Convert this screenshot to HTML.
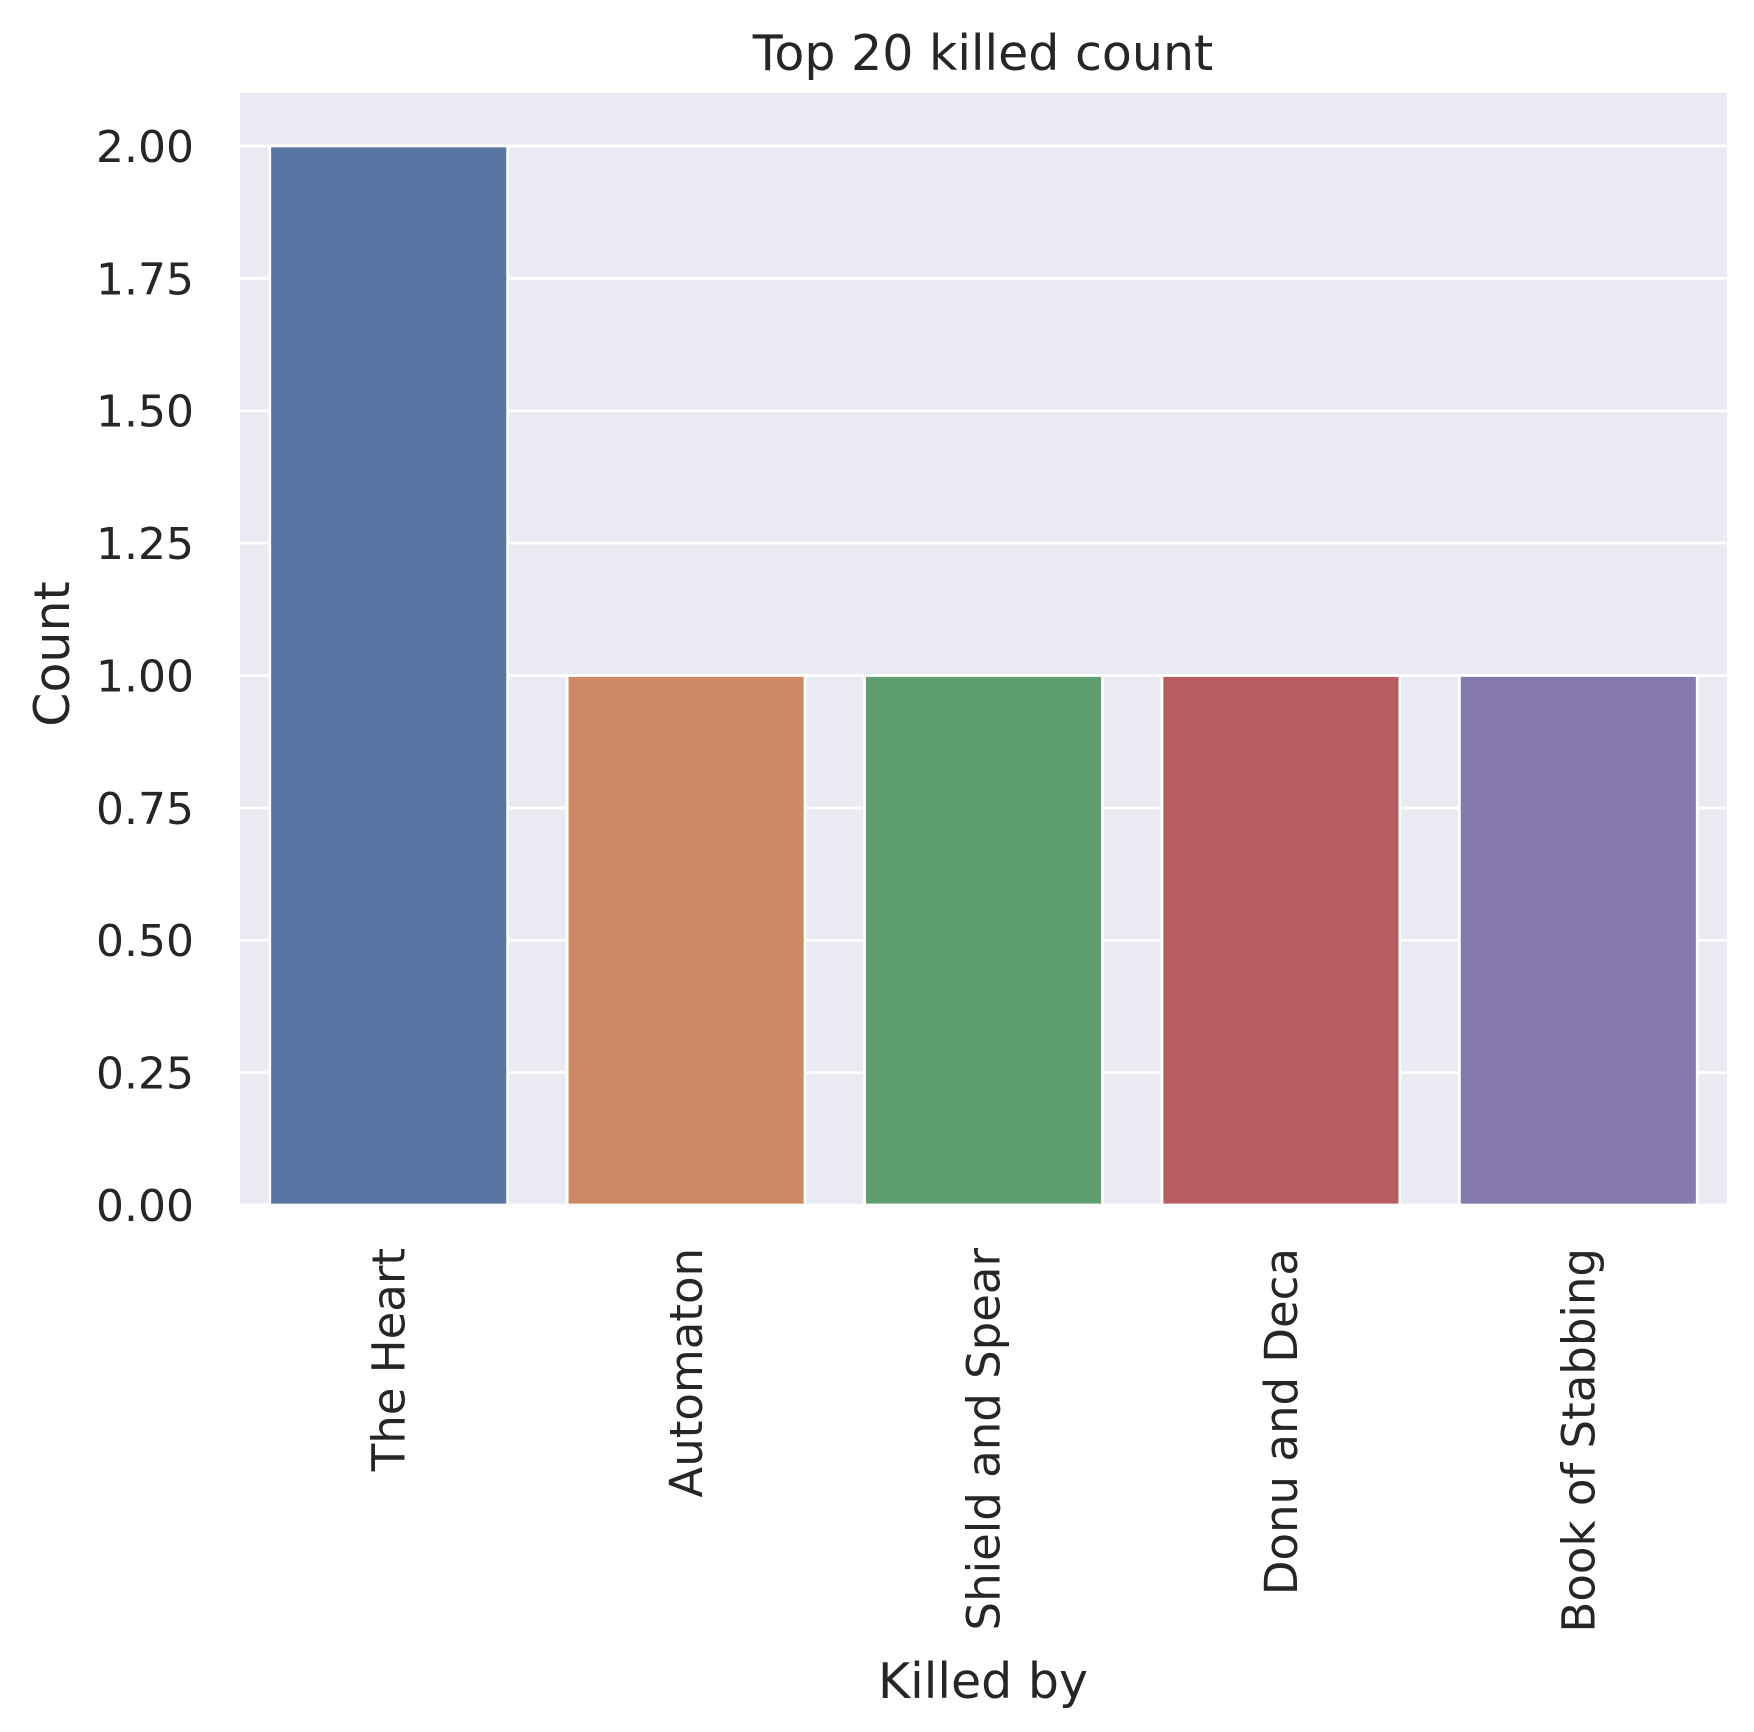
<!DOCTYPE html>
<html><head><meta charset="utf-8"><style>
html,body{margin:0;padding:0;background:#fff;}
svg text{font-family:"DejaVu Sans","Liberation Sans",sans-serif;fill:#262626;}
</style></head><body>
<svg id="chart" width="1754" height="1727" xmlns="http://www.w3.org/2000/svg">
<rect x="240" y="93" width="1487" height="1112" fill="#eaeaf2"/>
<g id="grid"></g><g id="bars"></g><g id="yticks"></g><g id="xticks"></g>
<text x="983" y="70" font-size="49" text-anchor="middle">Top 20 killed count</text>
<text x="983" y="1698" font-size="49" text-anchor="middle">Killed by</text>
<text transform="translate(69,654) rotate(-90)" font-size="49" text-anchor="middle">Count</text>
</svg>
<script>
const categories=["The Heart","Automaton","Shield and Spear","Donu and Deca","Book of Stabbing"];
const counts=[2,1,1,1,1];
const yTicks=[0,0.25,0.5,0.75,1.0,1.25,1.5,1.75,2.0];
const colors=["#5975a4","#cc8963","#5f9e6e","#b55d60","#857aab"];
const L=240,R=1727,T=93,B=1205,yMax=2.1;
const NS="http://www.w3.org/2000/svg";
const y=v=>B-(v/yMax)*(B-T);
const bw=(R-L)/categories.length;
const x=i=>L+bw*(i+0.5);
function mk(t,a,p){const e=document.createElementNS(NS,t);for(const k in a)e.setAttribute(k,a[k]);p.appendChild(e);return e;}
const g=document.getElementById('grid'),bg=document.getElementById('bars'),yt=document.getElementById('yticks'),xt=document.getElementById('xticks');
yTicks.forEach(v=>{
 const l=mk('line',{x1:L,x2:R,y1:y(v),y2:y(v),stroke:'#fff','stroke-width':2.8},g);
 
 
 const t=mk('text',{x:194,y:y(v)+16,'font-size':44,'text-anchor':'end'},yt);
 t.textContent=v.toFixed(2);
 
 
});
categories.forEach((c,i)=>{
 const w=bw*0.8;
 const r=mk('rect',{x:x(i)-w/2,y:y(counts[i]),width:w,height:B-y(counts[i]),fill:colors[i],stroke:'#fff','stroke-width':2.8},bg);
 
 
 const t=mk('text',{transform:`translate(${x(i)+16},1248) rotate(-90)`,'font-size':45,'text-anchor':'end'},xt);
 t.textContent=c;
 
 
});
</script>
</body></html>
